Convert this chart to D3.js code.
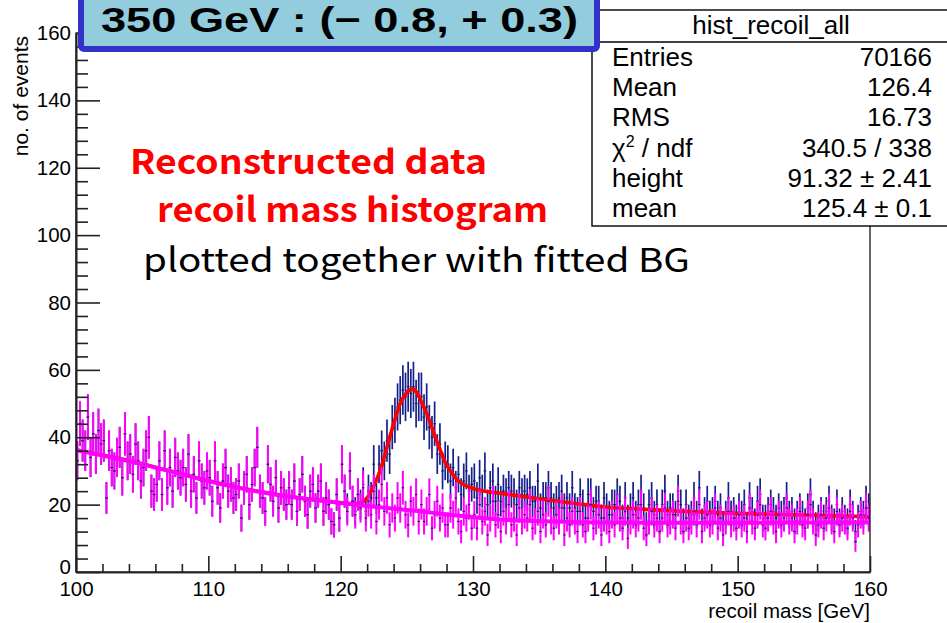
<!DOCTYPE html>
<html><head><meta charset="utf-8">
<script src="https://cdn.jsdelivr.net/npm/d3@7/dist/d3.min.js"></script>
<style>body{margin:0;background:#fff}svg{display:block}</style>
</head><body>
<svg id="c" width="947" height="623"></svg>
<script>
// ---------- data ----------
const histLow = 100, histBinWidth = 0.2;           // 300 bins, 100..160 GeV
const bgCounts = [
 33,44,39,36,46,34,41,35,42,38, 39,22,36,31,30,34,37,28,41,33,
 35,29,38,33,27,31,36,40,24,23, 26,33,23,36,25,31,24,34,30,28,
 31,26,35,24,29,22,33,27,25,30, 28,21,33,25,19,27,31,24,26,22,
 23,27,16,25,29,20,26,31,37,24, 22,18,32,26,21,28,19,25,23,20,
 25,20,27,18,23,29,21,17,24,26, 19,24,27,18,22,20,15,14,23,16,
 32,24,18,30,21,17,23,19,25,16, 21,17,24,15,20,26,18,22,14,19,
 16,22,19,25,17,14,21,18,23,15, 20,15,18,23,13,17,21,16,19,14,
 14,19,17,22,15,12,18,16,20,13, 17,13,20,15,18,11,16,21,14,17,
 12,18,15,20,14,16,11,19,15,17, 16,20,13,15,18,12,17,14,21,15,
 13,17,15,19,11,16,14,18,15,12, 18,14,12,16,20,13,15,17,11,16,
 15,12,17,14,19,16,13,18,10,15, 17,14,16,20,13,11,15,18,14,16,
 12,16,19,14,15,17,13,21,15,12, 16,13,15,18,14,20,12,16,17,14,
 15,19,13,16,11,15,18,14,16,13, 17,14,16,12,19,15,13,17,20,14,
 13,16,18,15,12,17,14,16,19,15, 16,12,15,18,14,13,17,20,15,11,
 14,17,13,16,19,15,12,18,14,16, 15,13,18,16,9,14,17,15,19,16
];
const sigStartBin = 100;   // signal excess (all - BG) from 120 GeV on
const sigCounts = [
 0,0,1,0,0,1,0,1,1,2, 3,5,8,7,12,10,15,17,21,24,
 29,27,32,29,35,41,32,37,27,37, 32,31,31,20,27,27,14,22,11,19,
 18,8,14,3,14,11,9,14,4,13, 10,9,8,9,12,9,9,6,7,9,
 9,6,8,5,10,7,9,6,8,7, 7,5,8,6,9,7,5,8,4,7,
 6,4,7,5,8,6,5,7,4,6, 5,6,4,7,3,5,6,4,5,6,
 4,5,3,6,4,5,3,4,6,4, 5,3,4,4,6,3,5,4,3,4,
 3,4,5,3,4,2,4,3,5,3, 4,3,2,4,3,5,3,2,4,3,
 3,2,4,3,3,2,4,3,2,3, 2,3,4,2,3,3,2,4,3,2,
 3,2,2,3,4,2,3,2,3,2, 2,3,2,1,3,2,2,3,2,3,
 2,1,3,2,2,1,3,2,1,2, 1,2,2,1,3,2,1,2,2,3
];
const bgFitX = [100,102,104,106,108,110,112,114,116,118,120,122,124,126,128,130,132,134,136,138,140,145,150,155,160];
const bgFitY = [36.2,34.6,32.9,31.0,29.0,27.0,25.2,23.7,22.4,21.4,20.5,19.6,18.8,18.0,17.1,16.3,15.6,15.2,15.0,14.8,14.7,14.6,14.6,14.7,14.7];
const totFitX = [100,102,104,106,108,110,112,114,116,118,120,121,121.5,122,122.5,123,123.5,124,124.5,125,125.4,125.8,126.1,126.5,126.8,127.2,127.5,127.9,128.3,128.9,129.5,130,131,132,134,136,138,140,143,146,150,155,160];
const totFitY = [36.3,34.7,33.0,31.1,29.1,27.1,25.3,23.8,22.5,21.5,20.6,20.3,20.5,22.0,25.5,30.3,37.0,44.0,50.0,53.3,54.3,53.0,50.5,47.0,44.0,39.5,36.5,32.5,30.0,27.0,25.6,24.8,23.9,23.4,22.3,21.2,20.2,19.3,18.6,18.0,17.4,16.9,16.4];
const xMajorTicks = [100,110,120,130,140,150,160];
const yMajorTicks = [0,20,40,60,80,100,120,140,160];
const titleText = "350 GeV :  (\u2212 0.8, + 0.3)";
const statsTitle = "hist_recoil_all";
const statsLabels = ["Entries","Mean","RMS","CHI","height","mean"];
const statsValues = ["70166","126.4","16.73","340.5 / 338","91.32 \u00b1 2.41","125.4 \u00b1 0.1"];
const noteLines = ["Reconstructed data","recoil mass histogram","plotted together with fitted BG"];

// ---------- drawing ----------
const svg = d3.select("#c");
const FONT = "'Liberation Sans', Arial, Helvetica, sans-serif";
const x = d3.scaleLinear().domain([100,160]).range([76,870]);
const y = d3.scaleLinear().domain([0,160]).range([572,33]);

svg.append("rect").attr("width",947).attr("height",623).attr("fill","#fff");
svg.append("defs").append("clipPath").attr("id","pc")
  .append("rect").attr("x",76).attr("y",33).attr("width",794).attr("height",539);

const bins = bgCounts.map((b,i)=>{
  const s = i>=sigStartBin ? sigCounts[i-sigStartBin] : 0;
  return {lo: histLow + i*histBinWidth, hi: histLow+(i+1)*histBinWidth,
          c: histLow+(i+0.5)*histBinWidth, bg: b, all: b+s};
});

const plot = svg.append("g").attr("clip-path","url(#pc)");
const NAVY = "#14208c", MAG = "#ff00ff", MARK = "#1a1a50";

// all-data histogram (navy)
const gAll = plot.append("g");
gAll.selectAll("line.v").data(bins).join("line")
  .attr("x1",d=>x(d.c)).attr("x2",d=>x(d.c))
  .attr("y1",d=>y(Math.max(0,d.all-Math.sqrt(d.all)))).attr("y2",d=>y(d.all+Math.sqrt(d.all)))
  .attr("stroke",NAVY).attr("stroke-width",1.7);
gAll.selectAll("line.h").data(bins).join("line")
  .attr("x1",d=>x(d.lo)).attr("x2",d=>x(d.hi))
  .attr("y1",d=>y(d.all)).attr("y2",d=>y(d.all))
  .attr("stroke",MARK).attr("stroke-width",1.2);

// total fit (red)
const line = d3.line().x(d=>x(d[0])).y(d=>y(d[1])).curve(d3.curveMonotoneX);
plot.append("path").datum(totFitX.map((v,i)=>[v,totFitY[i]]))
  .attr("d",line).attr("fill","none").attr("stroke","#ff0000").attr("stroke-width",3.6);

// BG histogram (magenta)
const gBg = plot.append("g");
gBg.selectAll("line").data(bins).join("line")
  .attr("x1",d=>x(d.c)).attr("x2",d=>x(d.c))
  .attr("y1",d=>y(Math.max(0,d.bg-Math.sqrt(d.bg)))).attr("y2",d=>y(d.bg+Math.sqrt(d.bg)))
  .attr("stroke",MAG).attr("stroke-width",2);
gBg.selectAll("rect").data(bins).join("rect")
  .attr("x",d=>x(d.c)-1.2).attr("width",2.4)
  .attr("y",d=>y(d.bg)-0.6).attr("height",1.2).attr("fill",MARK);

// BG fit (magenta)
plot.append("path").datum(bgFitX.map((v,i)=>[v,bgFitY[i]]))
  .attr("d",line).attr("fill","none").attr("stroke",MAG).attr("stroke-width",4);

// frame
svg.append("rect").attr("x",76).attr("y",33).attr("width",794).attr("height",539)
  .attr("fill","none").attr("stroke","#000").attr("stroke-width",1.2);

// axes
function styleAxis(g){
  g.attr("font-family",FONT).attr("font-size",20.5);
  g.select(".domain").attr("stroke","#222").attr("stroke-width",1.6);
  g.selectAll(".tick line").attr("stroke","#222").attr("stroke-width",1.6);
  g.selectAll(".tick text").attr("fill","#000");
}
const yMinor = d3.range(0,161,4).filter(v=>v%20!==0);
const xMinor = d3.range(100,161,2).filter(v=>v%10!==0);
svg.append("g").attr("transform","translate(76,0)")
  .call(d3.axisLeft(y).tickValues(yMinor).tickSize(-12).tickSizeOuter(0).tickFormat(""))
  .call(styleAxis);
const yAx = svg.append("g").attr("transform","translate(76,0)")
  .call(d3.axisLeft(y).tickValues(yMajorTicks).tickSize(-24).tickSizeOuter(0).tickPadding(5).tickFormat(d3.format("d")))
  .call(styleAxis);
yAx.selectAll(".tick text").filter(d=>d===0).attr("dy","0.05em");
svg.append("g").attr("transform","translate(0,572)")
  .call(d3.axisBottom(x).tickValues(xMinor).tickSize(-8).tickSizeOuter(0).tickFormat(""))
  .call(styleAxis);
svg.append("g").attr("transform","translate(0,572)")
  .call(d3.axisBottom(x).tickValues(xMajorTicks).tickSize(-16).tickSizeOuter(0).tickPadding(9).tickFormat(d3.format("d")))
  .call(styleAxis);

// axis titles
svg.append("text").attr("transform","translate(28,36) rotate(-90)")
  .attr("text-anchor","end").attr("font-family",FONT).attr("font-size",21).text("no. of events");
svg.append("text").attr("x",870).attr("y",618).attr("text-anchor","end")
  .attr("font-family",FONT).attr("font-size",20.5).text("recoil mass [GeV]");

// stats box
const sb = svg.append("g");
sb.append("rect").attr("x",592).attr("y",10).attr("width",380).attr("height",216)
  .attr("fill","#fff").attr("stroke","#000").attr("stroke-width",1.4);
sb.append("line").attr("x1",592).attr("x2",972).attr("y1",42).attr("y2",42)
  .attr("stroke","#000").attr("stroke-width",1.4);
sb.append("text").attr("x",771).attr("y",34).attr("text-anchor","middle")
  .attr("font-family",FONT).attr("font-size",26).text(statsTitle);
statsLabels.forEach((lab,i)=>{
  const yy = 66 + i*30.2;
  const t = sb.append("text").attr("x",612).attr("y",yy).attr("font-family",FONT).attr("font-size",26);
  if(lab==="CHI"){
    t.append("tspan").text("\u03c7");
    t.append("tspan").attr("font-size",16).attr("dy",-10).text("2");
    t.append("tspan").attr("dy",10).text(" / ndf");
  } else t.text(lab);
  sb.append("text").attr("x",932).attr("y",yy).attr("text-anchor","end")
    .attr("font-family",FONT).attr("font-size",26).text(statsValues[i]);
});

// title box
svg.append("rect").attr("x",81).attr("y",-6).attr("width",516).attr("height",55).attr("rx",3)
  .attr("fill","#93cddd").attr("stroke","#3232c8").attr("stroke-width",6);
svg.append("text").attr("x",101).attr("y",32).attr("font-family",FONT).attr("font-weight","bold")
  .attr("font-size",35).attr("textLength",477).attr("lengthAdjust","spacingAndGlyphs").text(titleText);

// annotations
const NFONT = "'Noto Sans CJK JP','Noto Sans',sans-serif";
svg.append("text").attr("x",130).attr("y",174).attr("font-family",NFONT).attr("font-weight","bold")
  .attr("font-size",34).attr("fill","#ff0000").attr("textLength",357).attr("lengthAdjust","spacingAndGlyphs").text(noteLines[0]);
svg.append("text").attr("x",157).attr("y",222).attr("font-family",NFONT).attr("font-weight","bold")
  .attr("font-size",34).attr("fill","#ff0000").attr("textLength",391).attr("lengthAdjust","spacingAndGlyphs").text(noteLines[1]);
svg.append("text").attr("x",143).attr("y",272).attr("font-family",NFONT)
  .attr("font-size",33).attr("fill","#000").attr("textLength",547).attr("lengthAdjust","spacingAndGlyphs").text(noteLines[2]);
</script>
</body></html>
